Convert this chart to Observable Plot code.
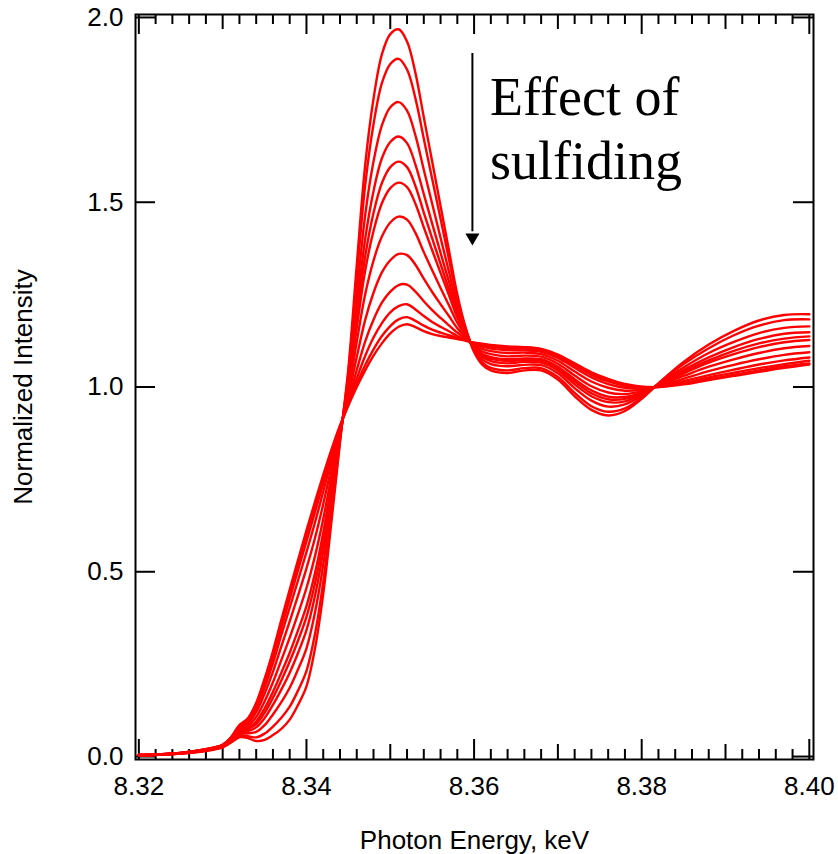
<!DOCTYPE html>
<html>
<head>
<meta charset="utf-8">
<script src="https://cdn.jsdelivr.net/npm/d3@7"></script>
<script src="https://cdn.jsdelivr.net/npm/@observablehq/plot@0.6"></script>
<style>
  html, body { margin: 0; padding: 0; background: #fff; }
  #chart { width: 838px; height: 854px; }
</style>
</head>
<body>
<div id="chart"></div>
<script>
// Photon energies (keV)
const energy = [8.320, 8.325, 8.328, 8.330, 8.331, 8.332, 8.333, 8.334, 8.335, 8.336, 8.337, 8.338, 8.339, 8.340, 8.341, 8.342, 8.343, 8.344, 8.345, 8.346, 8.347, 8.348, 8.349, 8.350, 8.351, 8.352, 8.353, 8.354, 8.355, 8.356, 8.357, 8.358, 8.359, 8.360, 8.361, 8.362, 8.364, 8.366, 8.368, 8.370, 8.372, 8.374, 8.376, 8.378, 8.380, 8.382, 8.385, 8.388, 8.391, 8.394, 8.397, 8.400];

// Normalized intensity, one array per spectrum (from unsulfided to fully sulfided)
const s01 = [0.003,0.008,0.015,0.025,0.038,0.052,0.050,0.042,0.045,0.058,0.075,0.100,0.140,0.190,0.290,0.440,0.640,0.850,1.050,1.330,1.600,1.780,1.900,1.955,1.968,1.935,1.850,1.730,1.610,1.490,1.370,1.250,1.160,1.095,1.060,1.045,1.038,1.045,1.045,1.020,0.975,0.938,0.923,0.935,0.968,1.010,1.068,1.115,1.152,1.180,1.195,1.197];
const s02 = [0.003,0.008,0.016,0.026,0.039,0.055,0.055,0.052,0.062,0.081,0.105,0.135,0.179,0.232,0.330,0.472,0.659,0.855,1.040,1.297,1.545,1.711,1.822,1.874,1.888,1.859,1.781,1.672,1.563,1.455,1.346,1.238,1.157,1.098,1.066,1.052,1.045,1.051,1.051,1.027,0.984,0.948,0.933,0.942,0.971,1.009,1.062,1.105,1.140,1.166,1.181,1.183];
const s03 = [0.003,0.008,0.016,0.027,0.041,0.060,0.063,0.067,0.085,0.114,0.147,0.186,0.236,0.293,0.388,0.519,0.687,0.861,1.026,1.249,1.464,1.610,1.708,1.757,1.771,1.748,1.681,1.588,1.496,1.404,1.312,1.221,1.151,1.101,1.074,1.062,1.056,1.060,1.059,1.037,0.997,0.963,0.947,0.953,0.976,1.008,1.053,1.092,1.122,1.146,1.160,1.164];
const s04 = [0.003,0.009,0.017,0.028,0.043,0.064,0.069,0.079,0.104,0.140,0.181,0.227,0.281,0.342,0.433,0.556,0.709,0.866,1.014,1.211,1.400,1.530,1.619,1.663,1.678,1.660,1.602,1.522,1.442,1.363,1.285,1.207,1.147,1.104,1.081,1.070,1.064,1.068,1.066,1.045,1.007,0.975,0.959,0.961,0.980,1.006,1.046,1.080,1.108,1.130,1.144,1.148];
const s05 = [0.003,0.009,0.017,0.028,0.044,0.067,0.074,0.088,0.118,0.159,0.206,0.257,0.314,0.378,0.467,0.583,0.725,0.870,1.006,1.183,1.353,1.471,1.552,1.595,1.610,1.595,1.544,1.472,1.402,1.333,1.265,1.197,1.144,1.106,1.085,1.076,1.070,1.073,1.071,1.050,1.015,0.983,0.967,0.968,0.983,1.006,1.041,1.072,1.098,1.118,1.131,1.137];
const s06 = [0.004,0.009,0.018,0.029,0.045,0.069,0.077,0.095,0.130,0.175,0.227,0.281,0.342,0.407,0.495,0.606,0.739,0.873,0.999,1.160,1.314,1.422,1.497,1.538,1.553,1.541,1.496,1.432,1.370,1.309,1.249,1.188,1.142,1.108,1.089,1.081,1.075,1.077,1.075,1.055,1.021,0.991,0.974,0.973,0.985,1.005,1.037,1.066,1.089,1.108,1.121,1.127];
const s07 = [0.004,0.009,0.018,0.029,0.047,0.073,0.083,0.107,0.149,0.201,0.261,0.322,0.387,0.456,0.541,0.643,0.761,0.878,0.987,1.122,1.250,1.342,1.407,1.445,1.461,1.453,1.417,1.365,1.316,1.268,1.221,1.174,1.138,1.111,1.096,1.089,1.083,1.085,1.082,1.063,1.031,1.002,0.985,0.981,0.989,1.004,1.030,1.055,1.075,1.092,1.105,1.111];
const s08 = [0.004,0.010,0.019,0.030,0.049,0.077,0.090,0.120,0.170,0.229,0.298,0.366,0.436,0.509,0.590,0.683,0.785,0.884,0.975,1.081,1.181,1.255,1.310,1.343,1.360,1.357,1.331,1.293,1.257,1.224,1.192,1.159,1.134,1.114,1.103,1.097,1.092,1.093,1.089,1.071,1.042,1.015,0.998,0.990,0.993,1.002,1.022,1.043,1.060,1.075,1.087,1.094];
const s09 = [0.004,0.010,0.019,0.031,0.050,0.080,0.096,0.131,0.187,0.253,0.329,0.403,0.477,0.553,0.632,0.717,0.805,0.889,0.964,1.046,1.123,1.182,1.228,1.258,1.276,1.277,1.258,1.232,1.208,1.187,1.167,1.147,1.130,1.117,1.109,1.104,1.100,1.099,1.095,1.079,1.052,1.026,1.008,0.998,0.996,1.001,1.016,1.032,1.047,1.061,1.072,1.080];
const s10 = [0.004,0.010,0.020,0.032,0.051,0.083,0.099,0.138,0.199,0.269,0.349,0.427,0.505,0.582,0.660,0.740,0.819,0.892,0.957,1.023,1.084,1.134,1.173,1.202,1.219,1.224,1.210,1.192,1.176,1.163,1.151,1.138,1.127,1.118,1.113,1.109,1.105,1.104,1.099,1.083,1.058,1.033,1.015,1.003,0.999,1.001,1.011,1.026,1.039,1.051,1.062,1.071];
const s11 = [0.004,0.010,0.020,0.032,0.052,0.084,0.102,0.142,0.206,0.279,0.363,0.443,0.522,0.601,0.678,0.754,0.827,0.894,0.953,1.008,1.059,1.102,1.138,1.165,1.183,1.189,1.179,1.166,1.155,1.147,1.140,1.133,1.126,1.119,1.116,1.112,1.108,1.106,1.102,1.086,1.062,1.038,1.020,1.006,1.000,1.000,1.009,1.021,1.033,1.045,1.056,1.064];
const s12 = [0.004,0.010,0.020,0.032,0.052,0.085,0.103,0.145,0.210,0.285,0.370,0.452,0.532,0.612,0.688,0.762,0.832,0.895,0.950,1.000,1.045,1.085,1.118,1.145,1.163,1.170,1.162,1.151,1.143,1.138,1.134,1.130,1.125,1.120,1.117,1.114,1.110,1.108,1.103,1.088,1.064,1.040,1.022,1.008,1.001,1.000,1.007,1.019,1.030,1.041,1.052,1.061];

// Tick positions / labels
const xMajor = [8.32, 8.34, 8.36, 8.38, 8.40];
const xMid = [8.33, 8.35, 8.37, 8.39];
const xMinor = [8.322, 8.324, 8.326, 8.328, 8.332, 8.334, 8.336, 8.338,
                8.342, 8.344, 8.346, 8.348, 8.352, 8.354, 8.356, 8.358,
                8.362, 8.364, 8.366, 8.368, 8.372, 8.374, 8.376, 8.378,
                8.382, 8.384, 8.386, 8.388, 8.392, 8.394, 8.396, 8.398];
const yMajor = [0, 0.5, 1.0, 1.5, 2.0];

// Annotation
const noteLines = ["Effect of", "sulfiding"];
const noteX = [8.3619, 8.3619];
const noteY = [1.735, 1.564];
const arrowX = 8.3598;
const arrowY = [1.9025, 1.42];
const arrowHeadY = 1.4046;

const seriesList = [s01, s02, s03, s04, s05, s06, s07, s08, s09, s10, s11, s12];
const table = [];
seriesList.forEach((vals, k) => {
  vals.forEach((v, j) => table.push({e: energy[j], v, s: k}));
});

const W = 838, H = 854;
const mL = 135, mR = 25, mT = 14, mB = 95;
const plotW = W - mL - mR, plotH = H - mT - mB;
const font = "'Liberation Sans', Arial, Helvetica, sans-serif";

const chart = Plot.plot({
  width: W,
  height: H,
  marginLeft: mL,
  marginRight: mR,
  marginTop: mT,
  marginBottom: mB,
  style: {fontFamily: font, background: "#fff", color: "#000", overflow: "visible"},
  x: {domain: [8.3196, 8.4005]},
  y: {domain: [-0.008, 2.008]},
  marks: [
    // bottom ticks (inward)
    Plot.tickX(xMajor, {x: d => d, insetTop: plotH - 20, stroke: "#000", strokeWidth: 2}),
    Plot.tickX(xMid, {x: d => d, insetTop: plotH - 15, stroke: "#000", strokeWidth: 2}),
    Plot.tickX(xMinor, {x: d => d, insetTop: plotH - 10, stroke: "#000", strokeWidth: 2}),
    // top ticks (inward)
    Plot.tickX(xMajor, {x: d => d, insetBottom: plotH - 20, stroke: "#000", strokeWidth: 2}),
    Plot.tickX(xMid, {x: d => d, insetBottom: plotH - 15, stroke: "#000", strokeWidth: 2}),
    Plot.tickX(xMinor, {x: d => d, insetBottom: plotH - 10, stroke: "#000", strokeWidth: 2}),
    // left and right ticks (inward)
    Plot.tickY(yMajor, {y: d => d, insetRight: plotW - 20, stroke: "#000", strokeWidth: 2}),
    Plot.tickY(yMajor, {y: d => d, insetLeft: plotW - 20, stroke: "#000", strokeWidth: 2}),
    // tick labels
    Plot.axisX({ticks: xMajor, tickFormat: d3.format(".2f"), tickSize: 0, tickPadding: 17, fontSize: 26, label: null}),
    Plot.axisY({ticks: yMajor, tickFormat: d3.format(".1f"), tickSize: 0, tickPadding: 12, fontSize: 26, label: null}),
    // spectra
    Plot.line(table, {x: "e", y: "v", z: "s", stroke: "#ff0000", strokeWidth: 2.4, curve: "catmull-rom"}),
    // frame
    Plot.frame({stroke: "#000", strokeWidth: 2}),
    // annotation
    Plot.ruleX([arrowX], {x: d => d, y1: arrowY[0], y2: arrowY[1], stroke: "#000", strokeWidth: 2}),
    Plot.dot([arrowX], {x: d => d, y: arrowHeadY, symbol: "triangle2", r: 6.7, fill: "#000", stroke: null, rotate: 180}),
    Plot.text(noteLines, {x: (d, i) => noteX[i], y: (d, i) => noteY[i], text: d => d, textAnchor: "start", lineAnchor: "bottom",
      fontFamily: "'Liberation Serif', 'Times New Roman', Times, serif", fontSize: 54, fill: "#000"}),
    // axis titles
    Plot.text(["Photon Energy, keV"], {frameAnchor: "bottom", dy: 89, lineAnchor: "bottom", textAnchor: "middle", fontSize: 26, fill: "#000"}),
    Plot.text(["Normalized Intensity"], {frameAnchor: "left", dx: -112, rotate: -90, textAnchor: "middle", lineAnchor: "middle", fontSize: 26, fill: "#000"})
  ]
});

document.getElementById("chart").appendChild(chart);
</script>
</body>
</html>
